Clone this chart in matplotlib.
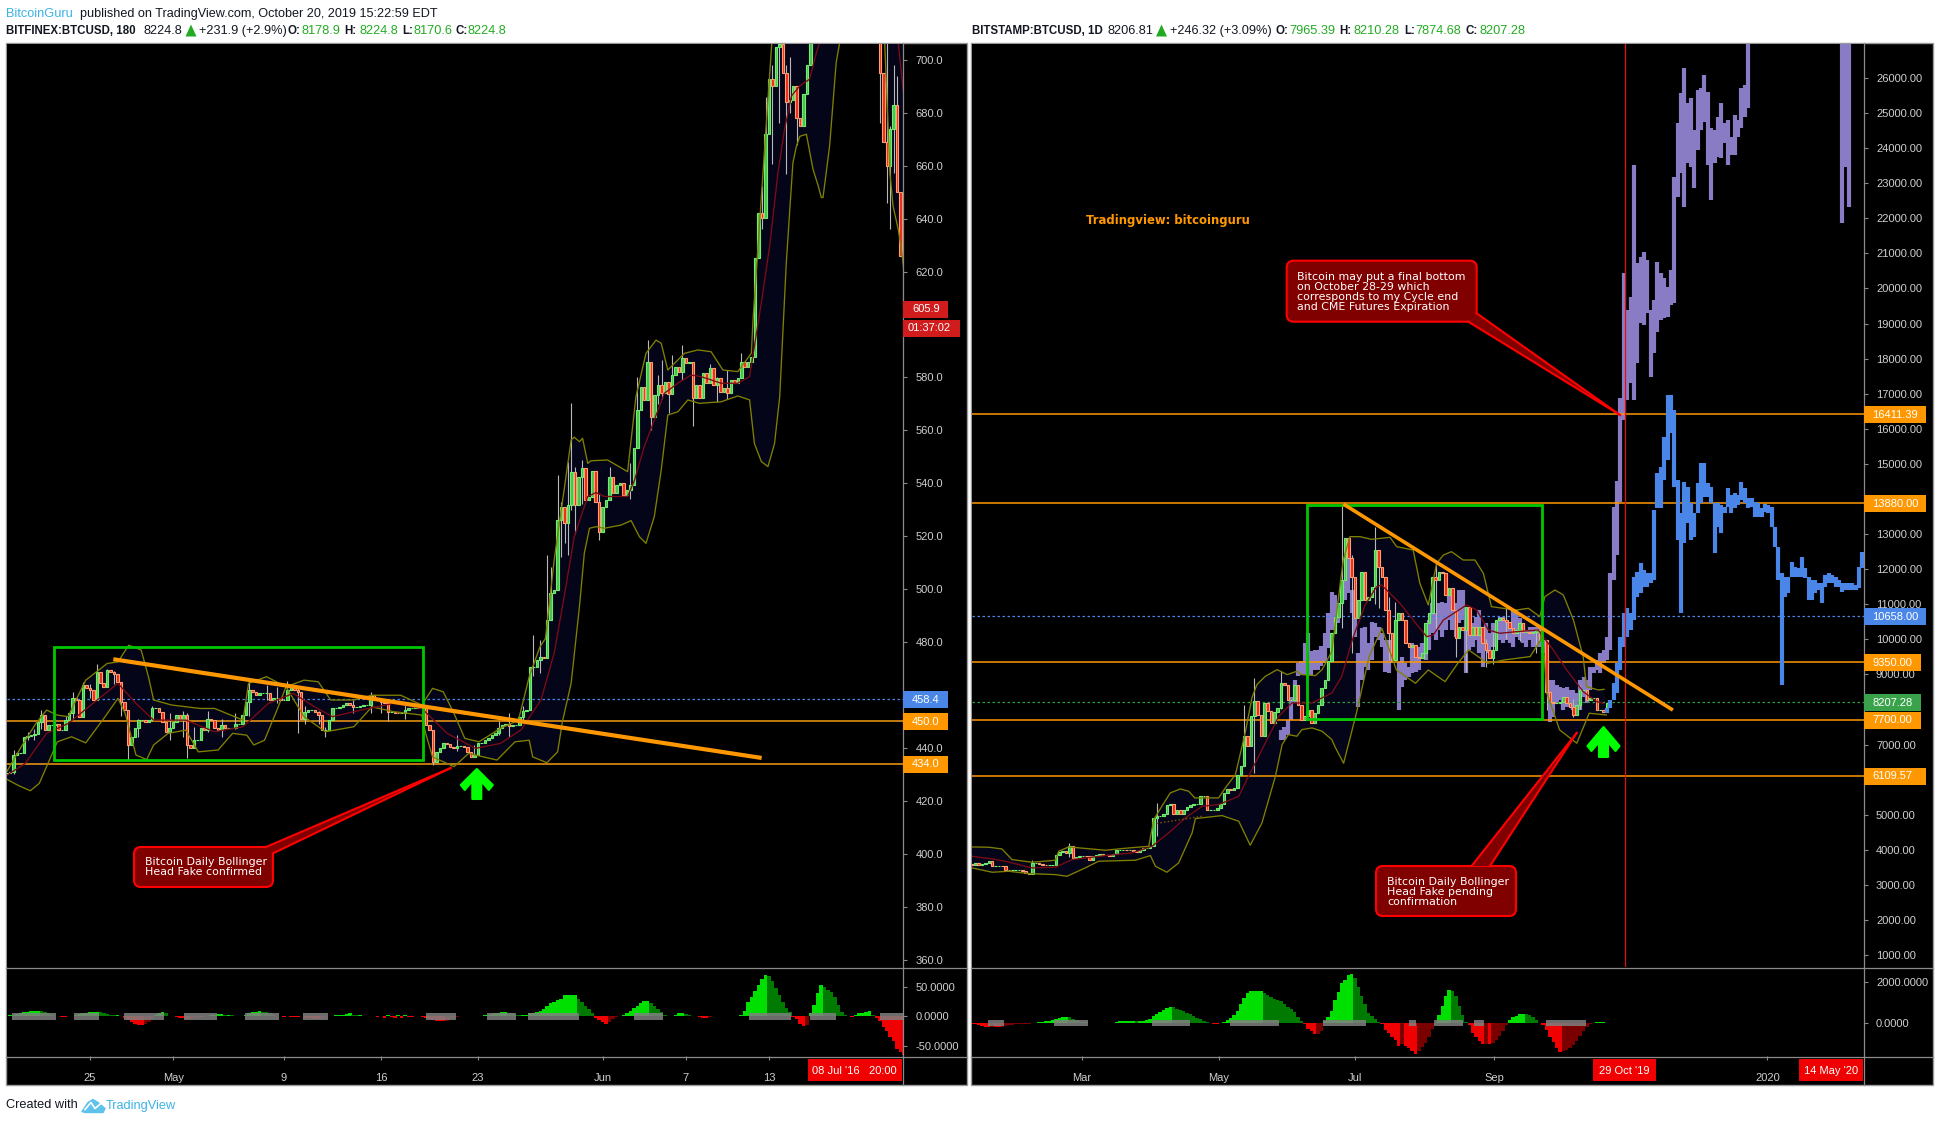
import numpy as np
import matplotlib
matplotlib.use("Agg")
import matplotlib.pyplot as plt
from matplotlib.patches import FancyBboxPatch, Polygon, Rectangle

W, H = 1939, 1122
plt.rcParams['font.family'] = ['Liberation Sans', 'DejaVu Sans']

# ---------- LEFT CHART DATA (BITFINEX 2016) ----------
left_close = [430.4,431,437.3,437.9,438.2,444.2,444.5,444.8,445.1,449.9,452.4,446.7,448.6,448.6,449.2,446.7,446.7,450.5,453,458.7,
458.1,451.8,463.7,462.5,461.8,458.1,468.8,464.4,463.1,469.4,468.8,468.1,465,457.4,454.3,441.1,444.2,447.4,450.5,450.5,
449.9,450.5,454.9,454.9,453.7,449.9,446.1,447.4,449.9,452.4,451.1,452.4,441.1,439.8,442.9,442.9,447.4,446.7,451.1,450.5,
447.4,446.7,448.6,447.4,447.4,447.4,449.2,449.2,452.4,457.4,461.8,461.2,459.9,460.6,460.6,460.6,458.1,458.7,458.7,458.1,
458.1,461.8,463.1,461.8,461.2,451.1,453.7,454.3,454.3,453.7,452.4,446.7,446.7,450.5,454.9,454.9,455.5,456.2,456.8,456.2,
455.5,455.5,455.8,456.2,456.2,459.9,458.7,458.3,457.4,456.8,453.7,453.7,453.3,453,453.3,454.3,454.9,455.2,455.5,454.9,
454.9,448.6,446.7,434.8,438.5,439.8,441.7,441.4,440.4,439.8,440.7,440.7,440.4,438.5,436.6,437.3,441.7,441.9,442.9,443.6,
444.8,445.5,447.4,448.6,449.2,448.2,448.6,448.6,451.5,454,454.3,470.7,470.7,473.2,474.5,473.9,488.4,498.4,499.7,526.1,
531.2,524.9,531.8,544.4,531.8,542.5,545.7,533.7,535,544.8,533,521.7,531.2,533.7,542.3,536.2,539.4,540,535.6,537.5,
539.4,553.2,567.7,576.5,571.5,586,565.2,573.4,577.1,574,578.4,573.7,580.9,584,582.2,587.2,585.3,586,572.1,577.1,
572.1,581.6,577.8,583.4,577.1,579.7,574.6,575.9,574.2,579,577.8,579.7,586,584,586,587.9,625,642,640.4,672,
692.7,690,705,706,695,684,685,690,678,675,687,698,715,725,735,750,765,770,760,745,
750,760,740,745,730,740,755,745,760,750,735,720,695,669,660,674,683,650,626,605.9]
left_wick_i = [2,6,8,10,14,17,19,22,24,26,29,31,33,35,38,42,47,51,52,54,58,62,66,70,75,78,81,84,86,90,92,100,105,108,110,115,120,123,130,135,142,145,149,
152,154,156,157,159,160,161,162,163,164,166,171,174,180,182,185,186,188,189,191,192,195,198,203,205,208,212,218,219,221,223,225,226,228,252,254,255,256,257]
left_wick_hi = [439.2,446,447,454.5,451,452,461,465,464,471.7,470,469,464,443,451,456,453,454,453,448,454,451,453,466.2,463.7,463,465.4,463,456,454,448,458,461.2,458,458,457,458,437,445,441,450,453,456,
482.7,480.8,512.9,508.5,543.1,533,528,548,570.2,546,548.8,536,546.3,547.5,580.3,594.1,575,581,586.6,577,588.5,592.3,578,585,580,582.8,589.1,652.4,685.8,698,708,698,701,684,708,708,675,698,694]
left_wick_lo = [430,443,443,447,447,449,451,456,459,459,464,464,452,435.6,444,450,443,444,436.3,441,446,444,447,452,458,457,459,445.5,449,449,444,453,453,453,450,451,444.2,433.5,439,436.5,445,444,450,
467,468.2,486,492,525,512.3,517.3,512.9,530,521,532,518.6,534,534,565,583,560.1,570,572,566.4,576,579,561.6,578,570.8,572,582,636,660,660.6,676,656.8,680,668,676,646,636,657.4,663]
left_upper_i = [0,4,8.4,11.5,14.6,17.7,22.8,29,32.1,35.2,38.8,40.9,42.4,47.6,55.9,60,68.2,69.8,75,80.6,85.8,89.9,93.5,100.2,105.4,113.7,119.8,122.9,126,129.1,132.2,136.3,142.5,147.7,150.8,153.9,
155.5,158,161,162.9,163.8,165.3,166.2,167.7,168.6,173.4,179.2,181.6,184.5,187.4,188.9,190.8,195.6,199.5,203.3,206.7,211,214.9,215.4,221,235,259]
left_upper_p = [431,440,449.2,454.3,452.4,451.8,465.6,471.9,472.5,478.8,477,466.9,458.1,456.2,454.9,454.9,450.5,464.4,466.9,463.1,465.6,465,458.1,458.1,459.9,459.9,456.2,462.5,461.2,453,443.6,442.3,447.4,450.5,466.9,478.2,
481.4,511,538.7,556.4,557.4,555.7,557,547.5,548.5,548.8,544.4,572.7,589.1,594.1,592.9,582.8,589.1,590.4,589.7,582.8,582.2,589.1,601.7,710,780,780]
left_lower_i = [0.1,3.2,6.8,9.4,11.5,14.6,18.7,22.8,28,32.1,34.2,37.3,40.4,42.4,46.6,51.7,55.3,61,65.2,69.3,71.3,74.4,78,80.6,85.8,92,100.2,105.4,111.6,119.8,120.9,122.9,129.1,133.3,141.5,146.7,150.8,151.8,155.9,159,
160.4,162.9,165.3,166.7,168.2,170.1,172.5,177.3,180.2,182.6,184.5,186.9,188.9,190.8,193.7,196.6,199.9,206.2,211,214.4,215.8,217.8,219.7,221.6,223.1,225,226.9,227.9,228.9,230.8,232.7,234.2,235.1,235.6,237.5,239.4,240.4,243,251,253.4,254.9,255.8,257.3,258.2,259]
left_lower_p = [428.1,425.9,423.8,426.6,432.9,442.3,444.2,441.9,451.1,458.7,453,437.3,435.6,441.1,445.5,446.7,438.5,439.2,445.5,444.8,441.1,442.9,454.3,463.1,451.8,446.1,448,455.5,453.7,452.4,445.5,436.6,432.9,437.9,435.4,442.3,442.9,436.6,434.4,438.5,
450,464.4,493.4,513.5,523,523.6,523,524.2,525.9,519.8,517.3,527.4,545,565.8,567,571.5,570.2,570.8,573,571.5,555,548.2,546.3,555,572.7,623.4,661,667.3,671.1,671.9,658.7,652.4,648,648,667.5,699,706.5,730,730,706.5,657.4,644.8,636,628.5,620]
left_mid_i = [0.1,5.3,11.5,17.7,24.9,32.1,37.3,42.4,51.7,60,68.2,75.5,82.7,88.9,94,102.3,111.6,119.8,127.1,135.3,142.5,148.4,154.2,158,160.9,163.8,167.7,170.1,172.5,179.2,181.2,184,186.9,189.8,193.7,197.5,200.4,206.2,211,214.4,217.8,220.2,222.6,224.5,226.5,228.9,231.7,233.7,234.6,240]
left_mid_p = [429.7,434.1,445.5,449.2,456.8,464.4,456.8,450.5,450.5,446.1,448,456.8,460.6,455.5,451.8,454.3,456.8,454.9,445.5,439.8,441.7,446.8,458.1,475.8,497.2,519.8,535,536.5,535,535,541.2,553.8,563.9,574,577.8,580.9,580.3,577.8,577.8,580.3,608.3,629.7,657.4,673.8,686.4,690.2,692.7,702.8,706.5,730]
left_mid2_i = [257.3,258.2,258.9]
left_mid2_p = [706.5,695.2,686.4]
left_hist = [1,3,3,4,6,7,8,9,10,10,9,7,5,3,1,0,-1,-1,0,1,3,4,5,6,7,8,8,7,5,4,3,2,2,1,-2,-6,-10,-13,-15,-15,-13,-9,-4,3,6,8,5,1,0,-1,
-2,-3,-4,-3,-2,-1,-1,0,1,2,3,4,4,3,3,2,1,0,1,3,5,7,8,9,8,7,5,3,1,0,-1,0,-1,-1,-1,0,-2,-3,-3,-4,-5,-4,-2,0,1,2,2,3,4,5,
3,2,2,1,1,1,0,-1,1,-2,2,-1,-2,2,-3,2,-1,-1,0,0,-1,-2,-4,-6,-7,-8,-8,-7,-5,-3,-1,0,0,0,0,0,0,1,2,3,4,5,6,7,7,6,5,3,2,2,
3,5,6,8,10,13,17,22,25,28,30,36,36,36,36,30,24,18,12,6,-2,-6,-10,-12,-10,-5,-1,1,3,6,10,14,18,23,26,26,22,17,12,7,3,1,1,3,5,6,4,2,1,0,
-1,-2,-2,-1,0,1,1,0,1,1,0,1,3,10,24,33,43,53,63,70,68,60,48,36,25,15,7,-1,-5,-12,-16,-14,5,20,40,53,50,45,42,32,20,8,3,0,-1,3,5,6,7,10,3,
-3,-8,-17,-25,-34,-42,-55,-60,-65]
left_gray_from = [1.6,19.5,33.8,42.2,51.3,68.7,85.6,121,138.7,150.4,180.9,214.3,231.8,251.9]
left_gray_to = [14.2,26.7,42.2,45.4,60.6,78.5,92.8,129.8,147,165.2,189.3,226.3,239.4,258.7]
left_ticks = [360,380,400,420,440,480,500,520,540,560,580,620,640,660,680,700]
left_xticks = [24,30,38,45,52,61,67,73]
left_xlabels = ['25','May','9','16','23','Jun','7','13']
left_levels = [450.0,434.0]
left_trend_d, left_trend_p = [25.68,72.46],[473.5,436.2]
left_box_d, left_box_p = [21.4,48.0],[435.4,478.0]

# ---------- RIGHT CHART DATA (BITSTAMP 2019) ----------
right_close = [3578,3625,3578,3606,3625,3672,3549,3549,3549,3530,3435,3416,3416,3435,3435,3387,3340,3321,3625,3625,
3606,3578,3559,3559,3559,3862,3929,3958,3910,4100,3768,3796,3815,3834,3815,3720,3815,3862,3891,3862,
3844,3834,3891,3986,4005,4005,3986,3986,3958,3939,3986,4053,4053,4100,4907,4955,4955,5031,5288,5316,
5031,5145,5031,5145,5221,5288,5316,5316,5525,5525,5145,5145,5145,5192,5316,5620,5734,5696,5763,6143,
6380,7235,6950,7805,8233,7853,7235,8185,7948,7615,7919,8043,8755,8708,8280,8280,8708,8138,7710,7805,
7995,7615,7900,8138,8613,8850,9373,10170,10645,11025,11690,12877,12307,11785,10597,11120,11928,11120,11215,11500,
12545,12070,11785,10835,10170,9410,10550,10740,10550,9885,9790,9838,9505,9458,9600,10455,10740,11785,11690,11928,
11880,11263,11453,10835,10028,10360,10265,10930,10123,10360,10123,10360,9885,9695,9458,9695,10550,10597,10550,10503,
10313,10170,10265,10455,10218,10218,10170,10218,10265,9980,9980,8508,8223,8175,8175,8223,8365,8175,8080,7843,
8128,8555,8555,8270,8318,8318,7985,7985,7938,8175]
right_wick_i = [18,29,55,81,84,87,92,110,113,120,121,124,126,138,144,147,153,155,159,163,168,171,179,181]
right_wick_hi = [3720,4195,5335,8137,8900,8100,9087,13856,12400,13210,12300,11200,11073,12260,10400,10400,10000,10200,10978,10500,10300,8600,8300,8698]
right_wick_lo = [3300,3800,4400,7300,6190,7473,8000,10313,9600,11000,10900,9410,9800,10300,9505,9078,9220,9300,10000,9950,9600,7985,7795,8000]
right_upper_i = [0,5,8.9,11.9,17.9,24.8,25.8,28.8,39.7,45.6,52.6,54.1,56.5,59,62,64.5,66.3,73.4,75.4,78.4,81.3,83.3,84.8,87.3,90.8,93.8,96.7,98.2,102.2,104.2,107.1,
108.5,110.5,112.5,115.5,118.9,124.4,126.4,131.3,133.3,135.8,138.3,140.3,142.7,146.2,149.7,152.2,154.6,158.1,162.1,165.6,169,170.5,173.5,176,179,181.9,182.9,186.4,188.1]
right_upper_p = [4081,4072,4024,3720,3644,3701,3958,4081,3986,4043,4100,4860,5240,5620,5734,5668,5478,5478,5763,6143,7330,8328,8708,8945,9135,8993,9088,8993,8964,9135,9658,
10740,12260,12925,12925,12849,12906,12640,12545,11595,10978,12165,12403,12498,12260,12260,11880,10930,10883,10835,10883,10645,11215,11405,11263,10550,9505,8650,8555,8574]
right_lower_i = [0,6,10.9,16.9,24.8,28.3,33.7,37.7,48.6,53.1,54.6,58,61.5,65.5,66.5,74.4,79.4,82.8,86.3,90.3,92.3,94.2,96.7,98.2,101.2,104.2,107.1,108,110.6,114.4,118.2,122,126.3,132,135.8,140.8,144.6,147.8,153.5,158.5,166.1,169.9,171.1,174.9,180,183.7,188.8]
right_lower_p = [3483,3359,3387,3321,3292,3245,3483,3673,3701,3834,3530,3359,3625,4480,4889,4974,4813,4129,4765,6095,6998,7283,7235,7425,7473,7378,7140,6941,6466,7891,9506,10314,9126,8746,9126,8793,9316,9696,9316,9411,9506,10076,8461,7416,7036,7891,7843]
right_mid_i = [0,6,9.9,17.9,24.8,29.8,39.7,47.6,53.6,58.5,63.5,68.5,73.4,79.4,82.3,86.3,91.3,95.2,101.2,107.1,110,113.5,117,120.4,121.9,124.4,127.4,131.3,135.3,137.3,140.3,147.2,150.2,153.7,157.1,162.1,168.5,173,177,181.9,185.9,187.9]
right_mid_p = [3815,3739,3672,3483,3502,3720,3834,3910,4100,4480,4907,5240,5288,5525,6095,6855,7805,8185,8185,8470,8935,10075,10978,11500,11548,11310,11025,10550,10075,10123,10550,10978,10835,10265,10170,10218,10265,9695,9125,8508,8223,8175]
right_dotted_i, right_dotted_p = [55,68.5],[4750,4955]
purple_i = list(range(92,232)) + [259,260,261]
purple_hi = [7425,7500,7710,8356,8850,9325,9373,9895,10180,9660,9705,9705,9800,10180,10740,11358,11263,10930,11690,11690,12355,11405,10740,9600,10313,10360,9885,10503,10455,10360,10170,9980,9980,9885,9885,9363,9505,9315,9220,9885,
9695,9790,9885,10265,10550,11025,10740,11025,11073,11025,11310,11215,11025,11405,11405,10740,10550,10455,10645,10835,10360,10455,10170,10455,10455,10645,10645,10503,10455,10835,10835,10597,10455,10265,10360,10360,10360,10360,9980,9410,
8840,8840,8698,8650,8603,8650,8555,8555,8460,8840,8935,8840,9220,9220,9410,9600,9695,10075,11881,13781,14500,16870,20433,19388,19768,23520,20718,20908,21051,20813,19388,19673,20765,20433,20290,20053,20528,23188,24708,25563,
26276,25278,25420,24518,25658,25705,26086,25610,24566,24518,24898,25278,24708,24803,24328,24946,24803,25705,25800,27500,27500,27500,27500]
purple_lo = [7140,7140,7283,7710,8185,8945,8993,8993,9610,8993,9135,9135,9230,9325,9743,10265,10360,10455,11025,11120,11310,10740,10075,8080,8840,9220,9125,9410,10075,9980,9790,9078,9030,9315,9410,7985,8650,8840,8935,9030,
9078,9125,9505,9410,9695,10170,9980,10265,10075,10265,10550,10265,10075,10455,10550,9030,9695,9790,9980,9600,9220,9695,9600,9790,9885,9980,9885,9980,9885,9790,10075,9980,9885,9790,9980,9790,9790,9790,9600,8460,
7653,7795,8175,8270,7985,8080,8080,7985,8080,7985,8365,8175,8555,9030,9125,9030,9315,9410,9695,11691,12400,13900,16253,16823,17298,16823,17868,19008,18961,19293,17488,18153,18770,19103,19150,19198,19530,19578,22618,23283,
22333,23568,23473,22856,23948,24518,24756,23520,22523,23568,23758,23710,24138,23520,23806,23806,24328,24566,24898,25136,21858,23473,22333]
blue_hi = [8034,8271,8746,9316,10076,10741,10883,10741,11786,11928,12166,11976,11881,11881,13686,14731,14921,15776,16964,16964,16536,14541,13591,14494,14351,13876,13591,14446,15016,15016,14446,14351,13876,13876,13828,13781,14304,14114,14161,14114,
14494,14304,14019,14019,13923,13876,13733,13857,13828,13781,13211,12641,11881,11786,11786,12214,12071,12024,12356,12024,11786,11691,11691,11596,11596,11833,11881,11833,11786,11691,11596,11596,11596,11596,11548,12071,12499]
blue_lo = [7891,8034,8271,8461,9126,9791,10076,10266,10551,11216,11311,11501,11501,11596,11691,13733,13733,14541,15111,15871,14351,12831,10741,12736,13306,12831,12926,13591,13876,14066,14066,13876,12451,13211,13021,13591,13781,13591,13733,13828,
13971,13876,13733,13781,13496,13496,13496,13638,13591,13211,12641,11691,8698,11216,11311,11786,11786,11786,11786,11738,11121,11121,11311,11406,11026,11501,11596,11596,11501,11501,11358,11406,11406,11406,11406,11453,12024]
right_hist = [-40,-60,-100,-150,-180,-190,-180,-190,-200,-180,-170,-100,-90,-80,-70,-60,-50,-40,-30,0,20,40,70,100,130,170,240,285,293,270,210,150,100,50,20,0,-10,-10,-10,-5,0,0,10,50,80,90,100,110,110,100,
100,100,130,200,330,420,530,640,740,780,760,690,630,570,500,420,340,250,170,100,50,0,-40,-50,-20,30,150,250,400,560,900,1200,1450,1560,1560,1560,1560,1450,1340,1250,1180,1120,1050,900,750,680,550,300,100,-50,
-300,-400,-553,-530,-400,100,300,600,1100,1500,1950,2100,2330,2374,2200,1750,1300,900,500,350,200,60,-70,-350,-500,-700,-850,-1130,-1050,-1150,-1250,-1380,-1528,-1400,-1200,-1000,-700,-300,-50,400,800,1300,1593,1550,1300,800,400,50,-100,-500,
-700,-900,-1057,-1040,-1040,-1000,-850,-650,-400,-100,130,280,320,420,455,440,380,280,130,0,-100,-350,-700,-950,-1230,-1414,-1400,-1350,-1250,-1080,-900,-650,-400,-200,-50,10,25,30,30,10]
right_gray_from = [4.9,24.3,53.7,76.8,104.4,130.2,137.5,149.5,170.7]
right_gray_to = [9.5,34.4,64.8,91.5,117.3,132,146.2,152.3,182.6]
right_ticks = [1000,2000,3000,4000,5000,7000,9000,10000,11000,12000,13000,15000,16000,17000,18000,19000,20000,21000,22000,23000,24000,25000,26000]
right_xticks = [59,120,181,243,365]
right_xlabels = ['Mar','May','Jul','Sep','2020']
right_levels = [16411.39,13880.00,9350.00,7700.00,6109.57]
right_trend_d, right_trend_p = [175.7,322.8],[13856,7982]
right_cycle_day = 301
right_box_d, right_box_p = [159.3,264.2],[7719,13828]

# ---------- helpers ----------
L_START, L_STEP = 17.99, 0.25
R_START, R_STEP = 9.9, 1.5
fig = plt.figure(figsize=(W/100, H/100), dpi=100, facecolor='white')

def rect(x0, y0, x1, y1):
    return [x0/W, 1-y1/H, (x1-x0)/W, (y1-y0)/H]

bg = fig.add_axes([0,0,1,1], zorder=0); bg.set_xlim(0,W); bg.set_ylim(H,0); bg.axis('off')
GRID = '#8a8a8a'
for x0,x1 in [(6,966.5),(971,1933)]:
    bg.add_patch(Rectangle((x0,43),x1-x0,1042,fc='black',ec='#9a9a9a',lw=1))

axL  = fig.add_axes(rect(7,44,903,967), zorder=2, facecolor='black')
axLi = fig.add_axes(rect(7,968,903,1056), zorder=2, facecolor='black')
axR  = fig.add_axes(rect(972,44,1863.5,967), zorder=2, facecolor='black')
axRi = fig.add_axes(rect(972,968,1863.5,1056), zorder=2, facecolor='black')
top = fig.add_axes([0,0,1,1], zorder=5); top.set_xlim(0,W); top.set_ylim(H,0); top.axis('off'); top.patch.set_alpha(0)

axL.set_xlim(18.01,82.66); axLi.set_xlim(18.01,82.66)
axL.set_ylim(357.2,706.0); axLi.set_ylim(-66.7,81.7)
axR.set_xlim(9.9,407.9); axRi.set_xlim(9.9,407.9)
axR.set_ylim(658,26969); axRi.set_ylim(-1620,2680)

def candles(ax, close, first_open, start, step, wi, whi, wlo, bw):
    close = np.array(close, float)
    opens = np.r_[first_open, close[:-1]]
    x = start + np.arange(len(close))*step
    wx = start + np.array(wi)*step
    ax.vlines(wx, wlo, whi, color='#b8b8b8', lw=0.8, zorder=4)
    up = close >= opens
    ax.bar(x[up], (close-opens)[up], bottom=opens[up], width=bw, fc='#4fbf4f', ec='#70ee70', lw=0.8, zorder=5)
    ax.bar(x[~up], (opens-close)[~up], bottom=close[~up], width=bw, fc='#ee2a1a', ec='#ffa070', lw=0.8, zorder=5)

def bands(ax, start, step, ui, up, li, lp, mi, mp, olive='#808000'):
    ux = start+np.array(ui)*step; lx = start+np.array(li)*step; mx = start+np.array(mi)*step
    ax.fill(np.r_[ux, lx[::-1]], np.r_[up, lp[::-1]], fc='#05051a', ec='none', zorder=1)
    ax.plot(ux, up, color=olive, lw=0.95, zorder=6)
    ax.plot(lx, lp, color=olive, lw=0.95, zorder=6)
    ax.plot(mx, mp, color='#7d0b14', lw=0.95, zorder=6)

def hist(ax, vals, start, step, gfrom, gto, gh):
    v = np.array(vals, float)
    x = start + np.arange(len(v))*step
    prev = np.r_[0, v[:-1]]
    cols = []
    for a,b in zip(v,prev):
        if a >= 0: cols.append('#00e000' if a >= b else '#007a00')
        else: cols.append('#f00000' if a <= b else '#7a0000')
    ax.bar(x, v, width=step*1.02, color=cols, lw=0, zorder=2)
    for a,b in zip(gfrom,gto):
        xa,xb = start+a*step, start+b*step
        ax.add_patch(Rectangle((xa,-gh),xb-xa,2*gh,fc='#808080',ec='none',alpha=0.85,zorder=3))

# ---------- left main ----------
bands(axL, L_START, L_STEP, left_upper_i, left_upper_p, left_lower_i, left_lower_p, left_mid_i, left_mid_p)
axL.plot(L_START+np.array(left_mid2_i)*L_STEP, left_mid2_p, color='#7d0b14', lw=0.95, zorder=6)
candles(axL, left_close, 430.0, L_START, L_STEP, left_wick_i, left_wick_hi, left_wick_lo, 0.18)
for lv in left_levels:
    axL.axhline(lv, color='#f39c12', lw=1.1, zorder=3)
axL.axhline(458.4, color='#4a86e8', lw=0.9, ls=(0,(2,2)), zorder=3)
axL.add_patch(Rectangle((left_box_d[0],left_box_p[0]),left_box_d[1]-left_box_d[0],left_box_p[1]-left_box_p[0],fc='none',ec='#00c800',lw=2,zorder=7))
axL.plot(left_trend_d,left_trend_p,color='#ff9800',lw=3,zorder=8,solid_capstyle='butt')

# ---------- right main ----------
bands(axR, R_START, R_STEP, right_upper_i, right_upper_p, right_lower_i, right_lower_p, right_mid_i, right_mid_p)
axR.vlines(R_START+np.array(purple_i)*R_STEP, purple_lo, purple_hi, color='#8a7cc4', lw=3.0, zorder=2.5, capstyle='butt')
candles(axR, right_close, 3600, R_START, R_STEP, right_wick_i, right_wick_hi, right_wick_lo, 1.15)
axR.plot(R_START+np.array(right_dotted_i)*R_STEP, right_dotted_p, color='#8b5a00', lw=1, ls=':', zorder=6)
blue_i = np.arange(189, 189+len(blue_hi))
axR.vlines(R_START+blue_i*R_STEP, blue_lo, blue_hi, color='#4a86e8', lw=3.0, zorder=5.5, capstyle='butt')
for lv in right_levels:
    axR.axhline(lv, color='#ff9800', lw=1.1, zorder=3.5)
axR.axhline(10658, color='#4a86e8', lw=0.9, ls=(0,(2,2)), zorder=3.5)
axR.axhline(8207.28, color='#2e9e3f', lw=0.9, ls=(0,(2,2)), zorder=3.5)
axR.axvline(right_cycle_day+0.6, color='#e01010', lw=0.9, zorder=7)
axR.add_patch(Rectangle((right_box_d[0],right_box_p[0]),right_box_d[1]-right_box_d[0],right_box_p[1]-right_box_p[0],fc='none',ec='#00c800',lw=2,zorder=7))
axR.plot(right_trend_d,right_trend_p,color='#ff9800',lw=2.6,zorder=8,solid_capstyle='butt')

# ---------- indicators ----------
hist(axLi, left_hist, L_START, L_STEP, left_gray_from, left_gray_to, 5.3)
hist(axRi, right_hist, R_START, R_STEP, right_gray_from, right_gray_to, 160)
axLi.set_yticks([50,0,-50],['50.0000','0.0000','-50.0000'])
axRi.set_yticks([2000,0],['2000.0000','0.0000'])
axL.set_yticks(left_ticks,[f'{v:.1f}' for v in left_ticks])
axR.set_yticks(right_ticks,[f'{v:.2f}' for v in right_ticks])
axLi.set_xticks(left_xticks,left_xlabels); axRi.set_xticks(right_xticks,right_xlabels)
for ax in (axL,axR,axLi,axRi):
    for s in ax.spines.values(): s.set_visible(False)
    ax.yaxis.tick_right()
    ax.tick_params(axis='y',length=3,width=0.8,color=GRID,labelcolor='#cfcfcf',labelsize=8,pad=6)
    ax.tick_params(axis='x',length=3,width=0.8,color=GRID,labelcolor='#cfcfcf',labelsize=8,pad=9)
axL.set_xticks([]); axR.set_xticks([])

# ---------- frame lines ----------
for x0,xa,x1 in [(6,903,966.5),(971,1863.5,1933)]:
    top.plot([xa,xa],[43,1085],color=GRID,lw=0.9)
    top.plot([x0,x1],[967.5,967.5],color=GRID,lw=0.9)
    top.plot([x0,x1],[1056.5,1056.5],color=GRID,lw=0.9)

# ---------- price labels ----------
def ypx(ax,p):
    return H-ax.transData.transform((ax.get_xlim()[0],p))[1]
def plabel(ax,xa,p,txt,col,w=45):
    y=ypx(ax,p)+0.5
    top.add_patch(Rectangle((xa,y-8.5),w,17,fc=col,ec='none',zorder=10))
    top.text(xa+9,y,txt,color='white',fontsize=8,va='center',ha='left',zorder=11)
ORANGE='#ff9800'; BLUE='#4a86e8'; GREEN='#3aa24a'; RED='#d01c1c'
plabel(axL,903,458.4,'458.4',BLUE); plabel(axL,903,450.0,'450.0',ORANGE); plabel(axL,903,434.0,'434.0',ORANGE)
plabel(axL,903,605.9,'605.9',RED)
top.add_patch(Rectangle((903,319.5),57,17,fc=RED,ec='none',zorder=10))
top.text(908,328,'01:37:02',color='white',fontsize=8,va='center',zorder=11)
xr=1863.5
plabel(axR,xr,16411.39,'16411.39',ORANGE,62.5); plabel(axR,xr,13880,'13880.00',ORANGE,62.5)
plabel(axR,xr,10658,'10658.00',BLUE,62.5); plabel(axR,xr,9350,'9350.00',ORANGE,57)
plabel(axR,xr,8207.28,'8207.28',GREEN,57); plabel(axR,xr,7700,'7700.00',ORANGE,57)
plabel(axR,xr,6109.57,'6109.57',ORANGE,62.5)

# time-axis red labels
for x0,x1,t in [(807.6,901.7,"08 Jul '16   20:00"),(1593.4,1655.8,"29 Oct '19"),(1798.7,1863,"14 May '20")]:
    top.add_patch(Rectangle((x0,1059),x1-x0,21.7,fc='#f00000',ec='none',zorder=10))
    top.text((x0+x1)/2,1070.5,t,color='white',fontsize=8,ha='center',va='center',zorder=11)

# ---------- callouts ----------
def callout(x0,y0,x1,y1,b1,b2,tip,lines,tx,ty,lh):
    top.add_patch(FancyBboxPatch((x0,y0),x1-x0,y1-y0,boxstyle='round,pad=0,rounding_size=7',fc='#800000',ec='#ff0000',lw=1.5,zorder=12))
    top.add_patch(Polygon([b1,b2,tip],closed=True,fc='#800000',ec='none',zorder=13))
    top.plot([b1[0],tip[0]],[b1[1],tip[1]],color='#ff0000',lw=1.5,zorder=14)
    top.plot([b2[0],tip[0]],[b2[1],tip[1]],color='#ff0000',lw=1.5,zorder=14)
    for k,s in enumerate(lines):
        top.text(tx,ty+k*lh,s,color='white',fontsize=7.9,family='DejaVu Sans',va='center',ha='left',zorder=15)

callout(1286.7,260.7,1476.7,321.7,(1468.3,321.7),(1476.7,313.3),(1620,415),
        ['Bitcoin may put a final bottom','on October 28-29 which','corresponds to my Cycle end','and CME Futures Expiration'],1297,276.7,10)
callout(134,847,273,887,(266,847),(273.2,853.3),(450.7,768),
        ['Bitcoin Daily Bollinger','Head Fake confirmed'],145,861.7,10)
callout(1376,866,1516,916,(1471.6,866),(1490,866),(1576.6,733),
        ['Bitcoin Daily Bollinger','Head Fake pending','confirmation'],1387,881.5,10)

# ---------- green arrows ----------
def arrow(cx,tip,wing,head,shaft,bottom):
    pts=[(cx,tip),(cx+wing,head),(cx+wing-4,head+5),(cx+shaft,head-4),(cx+shaft,bottom),(cx-shaft,bottom),(cx-shaft,head-4),(cx-wing+4,head+5),(cx-wing,head)]
    top.add_patch(Polygon(pts,closed=True,fc='#00ff00',ec='#00ff00',lw=1.5,joinstyle='round',zorder=9))
arrow(476.8,769,16,785,4.5,799)
arrow(1603.5,727,16,746,4.5,757)

top.text(1086,220.5,'Tradingview: bitcoinguru',color='#ff9800',fontsize=8.4,family='DejaVu Sans',weight='bold',va='center',zorder=9)

# ---------- header ----------
DARK='#131722'; HG='#22ab22'
fs=9.2; fsb=8.3
top.text(6,13.5,'BitcoinGuru',color='#3bb3e4',fontsize=fs,va='center')
top.text(80,13.5,'published on TradingView.com, October 20, 2019 15:22:59 EDT',color=DARK,fontsize=fs*0.985,va='center')
def tri(x,y=30.5):
    top.add_patch(Polygon([(x,y+6),(x+11,y+6),(x+5.5,y-6)],closed=True,fc=HG,ec='none'))
def hdr(items,y=30.5):
    for x,s,c,b in items:
        top.text(x,y,s,color=c,fontsize=fsb if b else fs,va='center',weight='bold' if b else 'normal')
hdr([(6,'BITFINEX:BTCUSD, 180',DARK,True),(143,'8224.8',DARK,False),(199,'+231.9 (+2.9%)',DARK,False),
     (288,'O:',DARK,True),(302,'8178.9',HG,False),(344,'H:',DARK,True),(359,'8224.8',HG,False),
     (402,'L:',DARK,True),(413,'8170.6',HG,False),(456,'C:',DARK,True),(468,'8224.8',HG,False)])
tri(185.5)
hdr([(972,'BITSTAMP:BTCUSD, 1D',DARK,True),(1107,'8206.81',DARK,False),(1170,'+246.32 (+3.09%)',DARK,False),
     (1275,'O:',DARK,True),(1289,'7965.39',HG,False),(1339,'H:',DARK,True),(1354,'8210.28',HG,False),
     (1404,'L:',DARK,True),(1415,'7874.68',HG,False),(1465,'C:',DARK,True),(1479,'8207.28',HG,False)])
tri(1156)

# ---------- footer ----------
top.text(6,1105.5,'Created with',color=DARK,fontsize=fs,va='center')
top.add_patch(Polygon([(82,1111.5),(88,1102.5),(93,1099.5),(98,1102.5),(105,1108.5),(103,1112.5),(85,1112.5)],closed=True,fc='#5ec2ea',ec='#5ec2ea',lw=1,joinstyle='round'))
top.plot([85,91,95,102],[1109.5,1102.5,1108.5,1102.5],color='white',lw=1.2)
top.text(106,1105.5,'TradingView',color='#3bb3e4',fontsize=fs,va='center')

fig.savefig('out.png',dpi=100,facecolor='white')
